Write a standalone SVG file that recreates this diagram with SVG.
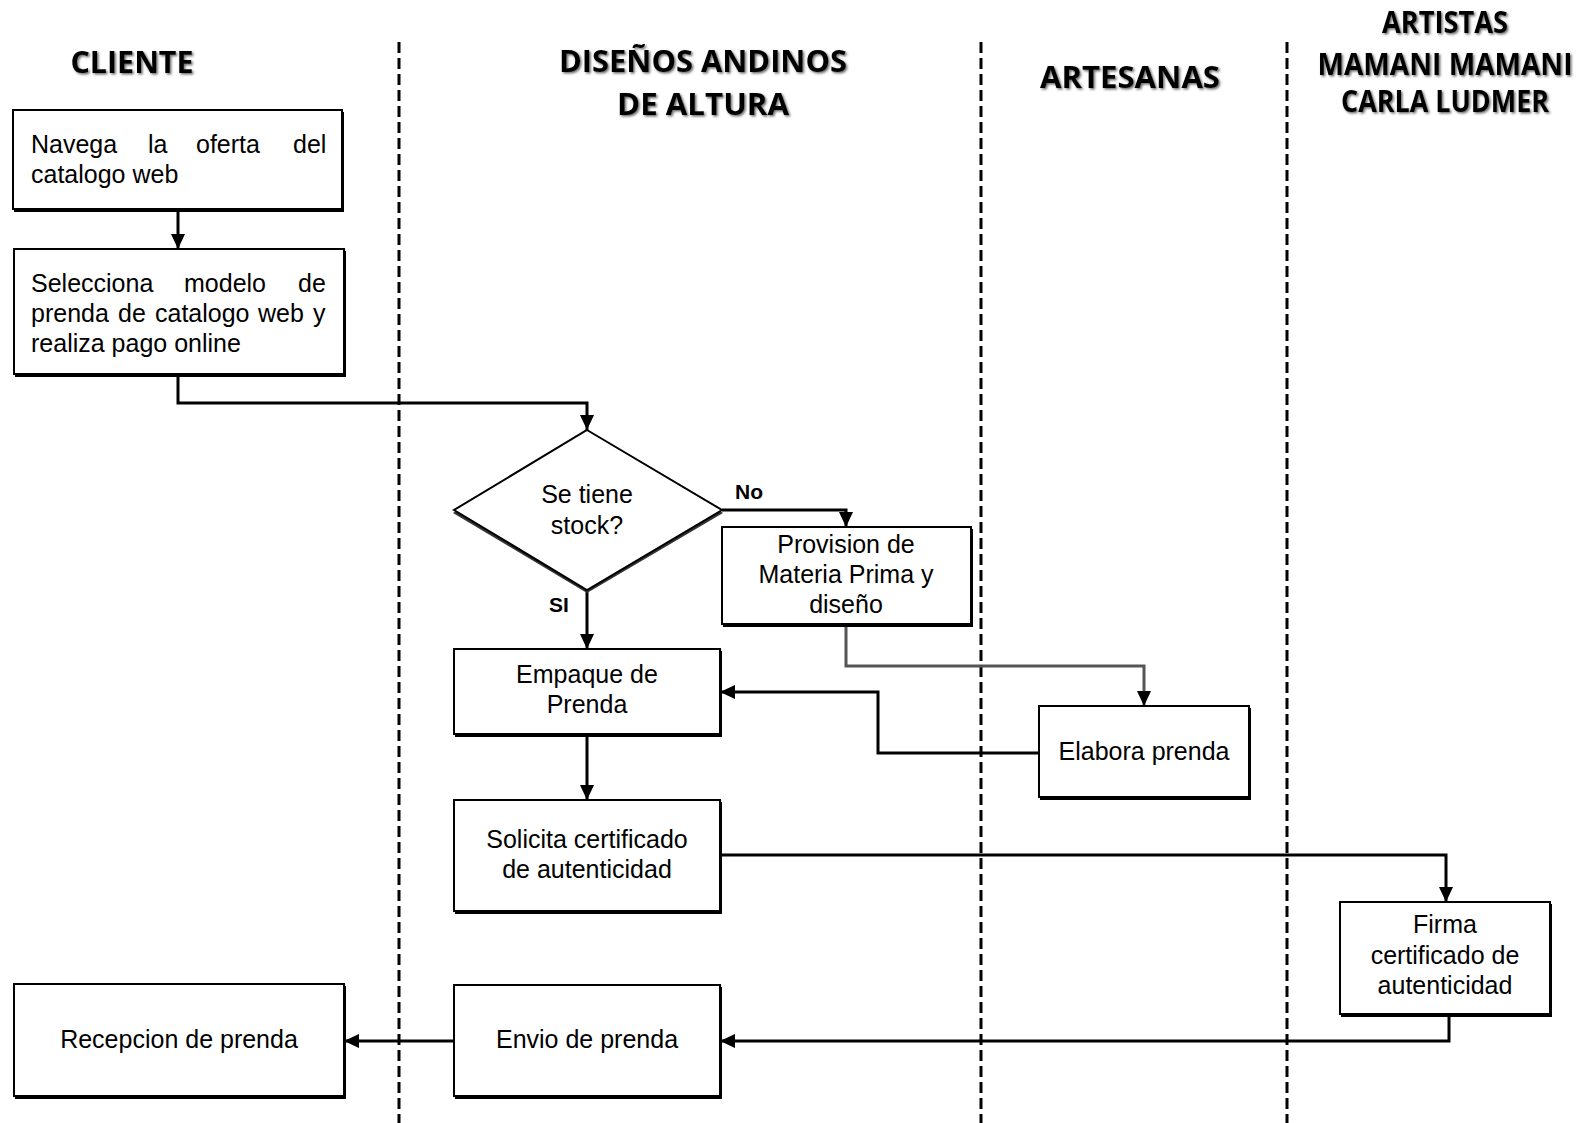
<svg xmlns="http://www.w3.org/2000/svg" width="1587" height="1123" viewBox="0 0 1587 1123">
<style>
.hdr{font-family:"Open Sans","Liberation Sans",sans-serif;font-weight:700;font-size:30px;fill:#000;text-anchor:middle}
.t{font-family:"Liberation Sans",Arial,sans-serif;font-size:25px;fill:#000}
.c{text-anchor:middle}
.lbl{font-family:"Liberation Sans",Arial,sans-serif;font-weight:700;font-size:21px;fill:#000}
.box{fill:#fff;stroke:#000;stroke-width:2}
.sh{fill:#000}
.lane{stroke:#000;stroke-width:3;stroke-dasharray:11 5;fill:none}
.con{fill:none;stroke:#000;stroke-width:3}
.gray{stroke:#555}
</style>
<defs>
<marker id="arr" markerUnits="userSpaceOnUse" markerWidth="16" markerHeight="14" refX="15" refY="7" orient="auto">
<path d="M0,0 L15,7 L0,14 z" fill="#000"/>
</marker>
<filter id="tsh" x="-10%" y="-20%" width="120%" height="150%">
<feDropShadow dx="1.5" dy="1.5" stdDeviation="1" flood-color="#444" flood-opacity="0.8"/>
</filter>
</defs>
<rect width="1587" height="1123" fill="#fff"/>

<g id="lanes">
<line class="lane" x1="399" y1="42" x2="399" y2="1123"/>
<line class="lane" x1="981" y1="42" x2="981" y2="1123"/>
<line class="lane" x1="1287" y1="42" x2="1287" y2="1123"/>
</g>

<g id="headers" filter="url(#tsh)">
<text class="hdr" x="132" y="73" textLength="123" lengthAdjust="spacingAndGlyphs">CLIENTE</text>
<text class="hdr" x="703" y="72" textLength="288" lengthAdjust="spacingAndGlyphs">DISEÑOS ANDINOS</text>
<text class="hdr" x="703" y="115" textLength="172" lengthAdjust="spacingAndGlyphs">DE ALTURA</text>
<text class="hdr" x="1130" y="88" textLength="180" lengthAdjust="spacingAndGlyphs">ARTESANAS</text>
<text class="hdr" x="1445" y="33" textLength="126" lengthAdjust="spacingAndGlyphs">ARTISTAS</text>
<text class="hdr" x="1445" y="75" textLength="255" lengthAdjust="spacingAndGlyphs">MAMANI MAMANI</text>
<text class="hdr" x="1445" y="112" textLength="208" lengthAdjust="spacingAndGlyphs">CARLA LUDMER</text>
</g>

<g id="connectors">
<path class="con" d="M178,210 L178,249" marker-end="url(#arr)"/>
<path class="con" d="M178,375 L178,403 L587,403 L587,430" marker-end="url(#arr)"/>
<path class="con" d="M722,510 L846,510 L846,527" marker-end="url(#arr)"/>
<path class="con" d="M587,590 L587,649" marker-end="url(#arr)"/>
<path class="con" d="M587,735 L587,800" marker-end="url(#arr)"/>
<path class="con gray" d="M846,625 L846,666 L1144,666 L1144,706" marker-end="url(#arr)"/>
<path class="con" d="M1039,753 L878,753 L878,692 L720,692" marker-end="url(#arr)"/>
<path class="con" d="M720,855 L1446,855 L1446,902" marker-end="url(#arr)"/>
<path class="con" d="M1449,1015 L1449,1041 L720,1041" marker-end="url(#arr)"/>
<path class="con" d="M454,1041 L344,1041" marker-end="url(#arr)"/>
<text class="lbl" x="735" y="499">No</text>
<text class="lbl" x="549" y="612">SI</text>
</g>

<g id="n1">
<rect class="sh" x="14" y="112" width="330" height="100"/>
<rect class="box" x="13" y="110" width="329" height="99"/>
<text class="t" y="153"><tspan x="31">Navega</tspan><tspan x="148">la</tspan><tspan x="196">oferta</tspan><tspan x="293">del</tspan></text>
<text class="t" x="31" y="183">catalogo web</text>
</g>

<g id="n2">
<rect class="sh" x="15" y="251" width="331" height="126"/>
<rect class="box" x="14" y="249" width="330" height="125"/>
<text class="t" y="292"><tspan x="31">Selecciona</tspan><tspan x="184">modelo</tspan><tspan x="298">de</tspan></text>
<text class="t" y="322"><tspan x="31">prenda</tspan><tspan x="118">de</tspan><tspan x="155">catalogo</tspan><tspan x="258">web</tspan><tspan x="313">y</tspan></text>
<text class="t" x="31" y="352">realiza pago online</text>
</g>

<g id="n3">
<polygon points="587,433 723,513 587,593 453,513" fill="#333"/>
<polygon points="587,430 722,510 587,590 454,510" fill="#fff" stroke="#000" stroke-width="2"/>
<text class="t c" x="587" y="503">Se tiene</text>
<text class="t c" x="587" y="534">stock?</text>
</g>

<g id="n4">
<rect class="sh" x="723" y="529" width="250" height="98"/>
<rect class="box" x="722" y="527" width="249" height="97"/>
<text class="t c" x="846" y="553">Provision de</text>
<text class="t c" x="846" y="583">Materia Prima y</text>
<text class="t c" x="846" y="613">diseño</text>
</g>

<g id="n5">
<rect class="sh" x="455" y="651" width="267" height="86"/>
<rect class="box" x="454" y="649" width="266" height="85"/>
<text class="t c" x="587" y="683">Empaque de</text>
<text class="t c" x="587" y="713">Prenda</text>
</g>

<g id="n6">
<rect class="sh" x="1040" y="708" width="211" height="92"/>
<rect class="box" x="1039" y="706" width="210" height="91"/>
<text class="t c" x="1144" y="760">Elabora prenda</text>
</g>

<g id="n7">
<rect class="sh" x="455" y="802" width="267" height="112"/>
<rect class="box" x="454" y="800" width="266" height="111"/>
<text class="t c" x="587" y="848">Solicita certificado</text>
<text class="t c" x="587" y="878">de autenticidad</text>
</g>

<g id="n8">
<rect class="sh" x="1341" y="904" width="211" height="113"/>
<rect class="box" x="1340" y="902" width="210" height="112"/>
<text class="t c" x="1445" y="933">Firma</text>
<text class="t c" x="1445" y="964">certificado de</text>
<text class="t c" x="1445" y="994">autenticidad</text>
</g>

<g id="n9">
<rect class="sh" x="455" y="987" width="267" height="112"/>
<rect class="box" x="454" y="985" width="266" height="111"/>
<text class="t c" x="587" y="1048">Envio de prenda</text>
</g>

<g id="n10">
<rect class="sh" x="15" y="986" width="331" height="113"/>
<rect class="box" x="14" y="984" width="330" height="112"/>
<text class="t c" x="179" y="1048">Recepcion de prenda</text>
</g>
</svg>
